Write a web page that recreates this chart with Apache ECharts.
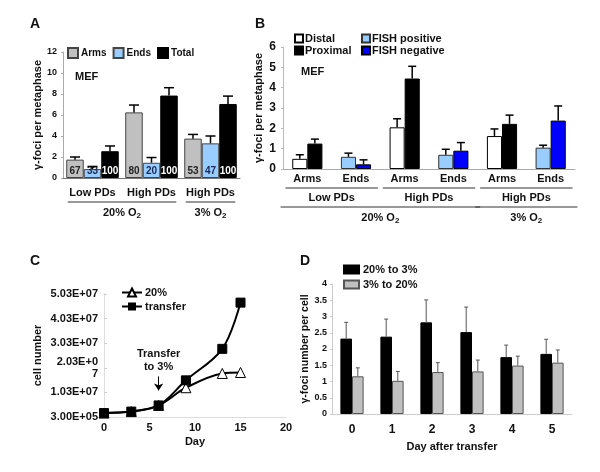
<!DOCTYPE html>
<html>
<head>
<meta charset="utf-8">
<script src="https://cdn.jsdelivr.net/npm/echarts@6.0.0/dist/echarts.min.js"></script>
<style>
  html, body { margin: 0; padding: 0; background: #fff; }
  #main { width: 600px; height: 472px; }
</style>
</head>
<body>
<div id="main"></div>
<script>
// ---- A: gamma foci per metaphase, arms / ends / total
var aCats = ['Low PDs', 'High PDs', 'High PDs'];
var aArms = [1.75, 6.25, 3.75];
var aArmsErr = [2.0, 6.95, 4.15];
var aEnds = [0.85, 1.45, 3.3];
var aEndsErr = [1.1, 1.95, 4.0];
var aTotal = [2.55, 7.85, 7.05];
var aTotalErr = [3.05, 8.6, 7.8];
var aArmsPct = [67, 80, 53];
var aEndsPct = [33, 20, 47];
var aTotalPct = [100, 100, 100];

// ---- B: distal / proximal and FISH positive / negative
var bCats = ['Arms', 'Ends', 'Arms', 'Ends', 'Arms', 'Ends'];
var bDistal = [0.5, null, 2.05, null, 1.62, null];
var bDistalErr = [0.7, null, 2.47, null, 1.97, null];
var bProximal = [1.25, null, 4.45, null, 2.22, null];
var bProximalErr = [1.47, null, 5.05, null, 2.65, null];
var bFishPos = [null, 0.6, null, 0.7, null, 1.05];
var bFishPosErr = [null, 0.78, null, 0.97, null, 1.17];
var bFishNeg = [null, 0.23, null, 0.9, null, 2.38];
var bFishNegErr = [null, 0.45, null, 1.3, null, 3.1];

// ---- C: growth curve
var cDays = [0, 3, 6, 9, 13, 15];
var c20 = [1.9e6, 2.5e6, 5.0e6, 1.22e7, 1.80e7, 1.84e7];
var cTransfer = [1.9e6, 2.5e6, 5.0e6, 1.52e7, 2.80e7, 4.68e7];
var cArrowDay = 6;
var cArrowFrom = 1.68e7;
var cArrowTo = 1.11e7;

// ---- D: foci per cell after transfer
var dDays = ['0', '1', '2', '3', '4', '5'];
var d20to3 = [2.32, 2.38, 2.82, 2.52, 1.75, 1.85];
var d20to3Err = [2.82, 2.92, 3.51, 3.29, 2.12, 2.30];
var d3to20 = [1.16, 1.02, 1.29, 1.31, 1.49, 1.58];
var d3to20Err = [1.42, 1.31, 1.58, 1.66, 1.78, 1.97];

var FONT = 'Liberation Sans';
var GAP_A = 0.11, GAP_B = 0.38, GAP_D = 0.42;

function pick(a, b) {
    return a.map(function (v, i) { return v != null ? v : b[i]; });
}

// 误差线: custom series, 只画向上
function errorSeries(idx, tops, errs, n, k, gap, color, cap, lw) {
    var data = [];
    for (var i = 0; i < tops.length; i++) {
        if (tops[i] != null) data.push([i, tops[i], errs[i]]);
    }
    return {
        type: 'custom',
        xAxisIndex: idx,
        yAxisIndex: idx,
        silent: true,
        z: 3,
        data: data,
        renderItem: function (params, api) {
            var band = api.size([1, 0])[0];
            var w = band * (1 - gap) / n;
            var off = (k - (n - 1) / 2) * w;
            var p0 = api.coord([api.value(0), api.value(1)]);
            var p1 = api.coord([api.value(0), api.value(2)]);
            var x = p0[0] + off;
            return {
                type: 'group',
                children: [
                    { type: 'line', shape: { x1: x, y1: p0[1], x2: x, y2: p1[1] }, style: { stroke: color, lineWidth: lw } },
                    { type: 'line', shape: { x1: x - cap, y1: p1[1], x2: x + cap, y2: p1[1] }, style: { stroke: color, lineWidth: lw } }
                ]
            };
        }
    };
}

function pctLabel(arr, color) {
    return {
        show: true,
        position: 'insideBottom',
        distance: 2,
        color: color,
        fontFamily: FONT,
        fontWeight: 'bold',
        fontSize: 10,
        formatter: function (p) { return arr[p.dataIndex]; }
    };
}

function expLabel(v) {
    var s = v.toExponential(2).toUpperCase();
    var m = s.split('E');
    var e = m[1];
    var sign = e.charAt(0);
    var d = e.substr(1);
    if (d.length < 2) d = '0' + d;
    s = m[0] + 'E' + sign + d;
    if (s === '2.03E+07') s = '2.03E+0\n7';
    return s;
}

function txt(size, extra) {
    var o = { fontFamily: FONT, fontWeight: 'bold', color: '#111', fontSize: size };
    for (var k in extra) o[k] = extra[k];
    return o;
}

var option = {
    animation: false,
    backgroundColor: '#fff',
    textStyle: { fontFamily: FONT },
    title: [
        { text: 'A', left: 25, top: 12, textStyle: txt(14) },
        { text: 'B', left: 250, top: 12, textStyle: txt(14) },
        { text: 'C', left: 25, top: 249, textStyle: txt(14) },
        { text: 'D', left: 295, top: 249, textStyle: txt(14) },
        { text: 'MEF', left: 75, top: 71, padding: 0, textStyle: txt(11) },
        { text: 'MEF', left: 301, top: 66, padding: 0, textStyle: txt(11) }
    ],
    legend: [
        { data: ['Arms', 'Ends', 'Total'], left: 67, top: 47, padding: 0, icon: 'rect',
          itemWidth: 10, itemHeight: 10, itemGap: 6, textStyle: txt(10, { padding: [0, 0, 0, -2] }) },
        { data: ['Distal', 'Proximal'], orient: 'vertical', left: 294, top: 33, padding: 0, icon: 'rect',
          itemWidth: 8, itemHeight: 8, itemGap: 1, textStyle: txt(11, { padding: [0, 0, 0, -3] }) },
        { data: ['FISH positive', 'FISH negative'], orient: 'vertical', left: 361, top: 33, padding: 0, icon: 'rect',
          itemWidth: 8, itemHeight: 8, itemGap: 1, textStyle: txt(11, { padding: [0, 0, 0, -3] }) },
        { data: ['20%', 'transfer'], orient: 'vertical', left: 121, top: 287, padding: 0,
          itemWidth: 20, itemHeight: 10, itemGap: 3, textStyle: txt(11, { padding: [0, 0, 0, -2] }) },
        { data: ['20% to 3%', '3% to 20%'], orient: 'vertical', left: 343, top: 264, padding: 0, icon: 'rect',
          itemWidth: 15, itemHeight: 8, itemGap: 4, textStyle: txt(11, { padding: [0, 0, 0, -1] }) }
    ],
    grid: [
        { left: 63, top: 52, width: 177, height: 126 },
        { left: 283, top: 47, width: 292, height: 122 },
        { left: 104, top: 294, width: 182, height: 123 },
        { left: 332, top: 284, width: 240, height: 130 }
    ],
    xAxis: [
        { gridIndex: 0, type: 'category', data: aCats,
          axisLine: { lineStyle: { color: '#777' } }, axisTick: { show: false },
          axisLabel: txt(11, { margin: 9, interval: 0 }) },
        { gridIndex: 1, type: 'category', data: bCats,
          axisLine: { lineStyle: { color: '#aaa' } }, axisTick: { show: false },
          axisLabel: txt(11, { margin: 4, interval: 0 }) },
        { gridIndex: 2, type: 'value', min: 0, max: 20, interval: 5,
          name: 'Day', nameLocation: 'middle', nameGap: 19, nameTextStyle: txt(11),
          splitLine: { show: false },
          axisLine: { lineStyle: { color: '#ddd' } }, axisTick: { show: false },
          axisLabel: txt(11, { margin: 5 }) },
        { gridIndex: 3, type: 'category', data: dDays,
          name: 'Day after transfer', nameLocation: 'middle', nameGap: 27, nameTextStyle: txt(11),
          axisLine: { lineStyle: { color: '#ccc' } }, axisTick: { show: false },
          axisLabel: txt(12, { margin: 10, interval: 0 }) }
    ],
    yAxis: [
        { gridIndex: 0, type: 'value', min: 0, max: 12, interval: 2,
          name: 'γ-foci per metaphase', nameLocation: 'middle', nameGap: 18, nameTextStyle: txt(11),
          splitLine: { show: false },
          axisLine: { show: true, lineStyle: { color: '#aaa' } },
          axisTick: { show: true, length: 2, lineStyle: { color: '#aaa' } },
          axisLabel: txt(9, { margin: 6 }) },
        { gridIndex: 1, type: 'value', min: 0, max: 6, interval: 1,
          name: 'γ-foci per metaphase', nameLocation: 'middle', nameGap: 19, nameTextStyle: txt(11),
          splitLine: { show: false },
          axisLine: { show: true, lineStyle: { color: '#bbb' } },
          axisTick: { show: true, length: 2, lineStyle: { color: '#bbb' } },
          axisLabel: txt(12, { margin: 7 }) },
        { gridIndex: 2, type: 'value', min: 300000, max: 50300000, interval: 10000000,
          name: 'cell number', nameLocation: 'middle', nameGap: 61, nameTextStyle: txt(11),
          splitLine: { show: false },
          axisLine: { show: true, lineStyle: { color: '#ddd' } },
          axisTick: { show: true, inside: true, length: 3, lineStyle: { color: '#ccc' } },
          axisLabel: txt(11, { margin: 6, lineHeight: 12, formatter: expLabel }) },
        { gridIndex: 3, type: 'value', min: 0, max: 4, interval: 0.5,
          name: 'γ-foci number per cell', nameLocation: 'middle', nameGap: 19, nameTextStyle: txt(10.5),
          splitLine: { show: false },
          axisLine: { show: true, lineStyle: { color: '#ccc' } },
          axisTick: { show: true, length: 2, lineStyle: { color: '#ccc' } },
          axisLabel: txt(9, { margin: 5 }) }
    ],
    series: [
        // A
        { name: 'Arms', type: 'bar', xAxisIndex: 0, yAxisIndex: 0, data: aArms,
          barGap: 0, barCategoryGap: GAP_A * 100 + '%',
          itemStyle: { color: '#c0c0c0', borderColor: '#444', borderWidth: 1 },
          label: pctLabel(aArmsPct, '#222') },
        { name: 'Ends', type: 'bar', xAxisIndex: 0, yAxisIndex: 0, data: aEnds,
          barGap: 0, barCategoryGap: GAP_A * 100 + '%',
          itemStyle: { color: '#99ccff', borderColor: '#444', borderWidth: 1 },
          label: pctLabel(aEndsPct, '#1a2a55') },
        { name: 'Total', type: 'bar', xAxisIndex: 0, yAxisIndex: 0, data: aTotal,
          barGap: 0, barCategoryGap: GAP_A * 100 + '%',
          itemStyle: { color: '#000', borderColor: '#000', borderWidth: 1 },
          label: pctLabel(aTotalPct, '#fff') },
        errorSeries(0, aArms, aArmsErr, 3, 0, GAP_A, '#000', 5, 1.5),
        errorSeries(0, aEnds, aEndsErr, 3, 1, GAP_A, '#000', 5, 1.5),
        errorSeries(0, aTotal, aTotalErr, 3, 2, GAP_A, '#000', 5, 1.5),
        // B
        { name: 'Distal', type: 'bar', xAxisIndex: 1, yAxisIndex: 1, stack: 'left', data: bDistal,
          barGap: 0, barCategoryGap: GAP_B * 100 + '%',
          itemStyle: { color: '#fff', borderColor: '#000', borderWidth: 1 } },
        { name: 'FISH positive', type: 'bar', xAxisIndex: 1, yAxisIndex: 1, stack: 'left', data: bFishPos,
          itemStyle: { color: '#99ccff', borderColor: '#333', borderWidth: 1 } },
        { name: 'Proximal', type: 'bar', xAxisIndex: 1, yAxisIndex: 1, stack: 'right', data: bProximal,
          itemStyle: { color: '#000', borderColor: '#000', borderWidth: 1 } },
        { name: 'FISH negative', type: 'bar', xAxisIndex: 1, yAxisIndex: 1, stack: 'right', data: bFishNeg,
          itemStyle: { color: '#0000ff', borderColor: '#000', borderWidth: 1 } },
        errorSeries(1, pick(bDistal, bFishPos), pick(bDistalErr, bFishPosErr), 2, 0, GAP_B, '#000', 4, 1.5),
        errorSeries(1, pick(bProximal, bFishNeg), pick(bProximalErr, bFishNegErr), 2, 1, GAP_B, '#000', 4, 1.5),
        // C
        { name: '20%', type: 'line', xAxisIndex: 2, yAxisIndex: 2, smooth: 0.35,
          data: cDays.map(function (d, i) { return [d, c20[i]]; }),
          symbol: 'triangle', symbolSize: 10,
          lineStyle: { color: '#000', width: 2 },
          itemStyle: { color: '#fff', borderColor: '#000', borderWidth: 1 } },
        { name: 'transfer', type: 'line', xAxisIndex: 2, yAxisIndex: 2, smooth: 0.35,
          data: cDays.map(function (d, i) { return [d, cTransfer[i]]; }),
          symbol: 'rect', symbolSize: 9,
          lineStyle: { color: '#000', width: 2 },
          itemStyle: { color: '#000', borderColor: '#000' },
          markLine: {
              silent: true,
              symbol: ['none', 'arrow'],
              symbolSize: 7,
              lineStyle: { color: '#000', width: 1, type: 'solid' },
              label: { show: true, position: 'start', distance: 3, formatter: 'Transfer\nto 3%',
                       fontFamily: FONT, fontWeight: 'bold', fontSize: 11, color: '#111', lineHeight: 13, align: 'center' },
              data: [[{ coord: [cArrowDay, cArrowFrom] }, { coord: [cArrowDay, cArrowTo] }]]
          } },
        // D
        { name: '20% to 3%', type: 'bar', xAxisIndex: 3, yAxisIndex: 3, data: d20to3,
          barGap: 0, barCategoryGap: GAP_D * 100 + '%',
          itemStyle: { color: '#000', borderColor: '#000', borderWidth: 1 } },
        { name: '3% to 20%', type: 'bar', xAxisIndex: 3, yAxisIndex: 3, data: d3to20,
          itemStyle: { color: '#c0c0c0', borderColor: '#555', borderWidth: 1 } },
        errorSeries(3, d20to3, d20to3Err, 2, 0, GAP_D, '#555', 2, 1),
        errorSeries(3, d3to20, d3to20Err, 2, 1, GAP_D, '#555', 2, 1)
    ]
};

var chart = echarts.init(document.getElementById('main'));
chart.setOption(option);

// 分组标签和分隔线
var subRich = { s: { fontFamily: FONT, fontWeight: 'bold', fontSize: 8, verticalAlign: 'bottom', padding: [5, 0, 0, 0] } };
var graphics = [];
function groupPos(xi, g, ext) {
    var p0 = chart.convertToPixel({ xAxisIndex: xi }, 0);
    var p1 = chart.convertToPixel({ xAxisIndex: xi }, 1);
    var band = p1 - p0;
    return [chart.convertToPixel({ xAxisIndex: xi }, g.from) - band * ext,
            chart.convertToPixel({ xAxisIndex: xi }, g.to) + band * ext];
}
function addLines(xi, groups, lineY, ext) {
    groups.forEach(function (g) {
        var p = groupPos(xi, g, ext);
        graphics.push({ type: 'line', shape: { x1: p[0], y1: lineY, x2: p[1], y2: lineY },
                        style: { stroke: '#333', lineWidth: 1 }, silent: true });
    });
}
function addTexts(xi, groups, textY, ext) {
    groups.forEach(function (g) {
        var p = groupPos(xi, g, ext);
        graphics.push({ type: 'text', x: (p[0] + p[1]) / 2, y: textY, silent: true,
                        style: { text: g.text, rich: subRich, fontFamily: FONT, fontWeight: 'bold', fontSize: 11,
                                 fill: '#111', align: 'center', verticalAlign: 'middle' } });
    });
}
// A
addLines(0, [{ from: 0, to: 1 }, { from: 2, to: 2 }], 202, 0.42);
addTexts(0, [{ from: 0, to: 1, text: '20% O{s|2}' }, { from: 2, to: 2, text: '3% O{s|2}' }], 213, 0.42);
// B
addLines(1, [{ from: 0, to: 1 }, { from: 2, to: 3 }, { from: 4, to: 5 }], 188, 0.45);
addTexts(1, [{ from: 0, to: 1, text: 'Low PDs' }, { from: 2, to: 3, text: 'High PDs' }, { from: 4, to: 5, text: 'High PDs' }], 198, 0.45);
addLines(1, [{ from: 0, to: 3 }, { from: 4, to: 5 }], 207, 0.55);
addTexts(1, [{ from: 0, to: 3, text: '20% O{s|2}' }, { from: 4, to: 5, text: '3% O{s|2}' }], 218, 0.55);

chart.setOption({ graphic: graphics });
</script>
</body>
</html>
